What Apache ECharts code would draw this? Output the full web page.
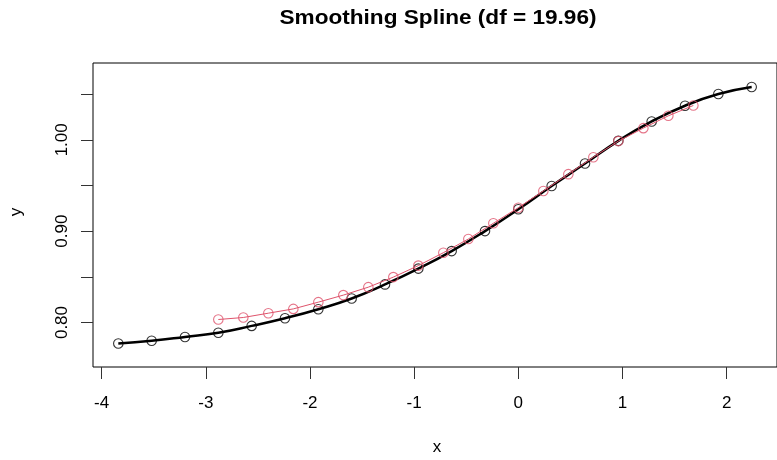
<!DOCTYPE html>
<html>
<head>
<meta charset="utf-8">
<script src="https://cdn.jsdelivr.net/npm/echarts@6/dist/echarts.min.js"></script>
<style>
html,body{margin:0;padding:0;background:#fff;}
#c{width:777px;height:460px;}
</style>
</head>
<body>
<div id="c"></div>
<script>
const titleText = "Smoothing Spline (df = 19.96)";
const xName = "x";
const yName = "y";

const fitX = [-3.84, -3.52, -3.20, -2.88, -2.56, -2.24, -1.92, -1.60, -1.28, -0.96,
              -0.64, -0.32, 0.00, 0.32, 0.64, 0.96, 1.28, 1.60, 1.92, 2.24];
const fitY = [0.7770, 0.7800, 0.7842, 0.7888, 0.7963, 0.8047, 0.8146, 0.8263, 0.8417, 0.8590,
              0.8782, 0.9001, 0.9240, 0.9495, 0.9740, 0.9989, 1.0201, 1.0373, 1.0501, 1.0578];

const obsX = [-2.88, -2.64, -2.40, -2.16, -1.92, -1.68, -1.44, -1.20, -0.96, -0.72,
              -0.48, -0.24, 0.00, 0.24, 0.48, 0.72, 0.96, 1.20, 1.44, 1.68];
const obsY = [0.8033, 0.8055, 0.8102, 0.8149, 0.8223, 0.8300, 0.8387, 0.8497, 0.8623, 0.8764,
              0.8914, 0.9086, 0.9257, 0.9440, 0.9624, 0.9810, 0.9986, 1.0128, 1.0263, 1.0376];

const xTicks = [-4, -3, -2, -1, 0, 1, 2];
const yTicks = [0.80, 0.85, 0.90, 0.95, 1.00, 1.05];
const yTickLabels = [0.80, 0.90, 1.00];

const fitData = fitX.map((x, i) => [x, fitY[i]]);
const obsData = obsX.map((x, i) => [x, obsY[i]]);

const FONT = "Liberation Sans, Arial, sans-serif";
const chart = echarts.init(document.getElementById('c'), null, {renderer: 'canvas'});
chart.setOption({
  animation: false,
  backgroundColor: '#fff',
  grid: {left: 93, top: 63, right: -5, bottom: 93, show: true, borderColor: '#000', borderWidth: 1, backgroundColor: 'transparent'},
  xAxis: {
    type: 'value', min: -4.083, max: 2.483,
    splitLine: {show: false},
    axisLine: {show: false, onZero: false},
    axisTick: {show: true, inside: false, length: 12, customValues: xTicks, lineStyle: {color: '#333', width: 1}},
    axisLabel: {show: true, customValues: xTicks, margin: 28, fontSize: 17, fontFamily: FONT, color: '#000',
                formatter: v => String(v)}
  },
  yAxis: {
    type: 'value', min: 0.7513, max: 1.0841,
    splitLine: {show: false},
    axisLine: {show: false, onZero: false},
    axisTick: {show: true, inside: false, length: 12, customValues: yTicks, lineStyle: {color: '#333', width: 1}},
    axisLabel: {show: true, customValues: yTickLabels, rotate: 90, margin: 22, fontSize: 17, fontFamily: FONT, color: '#000',
                formatter: v => Number(v).toFixed(2)}
  },
  graphic: [
    {type: 'text', x: 438, y: 18, scaleX: 1.13, style: {text: titleText, x: 0, y: 0, align: 'center', verticalAlign: 'middle',
      font: 'bold 20px Liberation Sans, Arial, sans-serif', fill: '#000'}},
    {type: 'text', style: {text: xName, x: 437, y: 447, align: 'center', verticalAlign: 'middle',
      font: '17px Liberation Sans, Arial, sans-serif', fill: '#000'}},
    {type: 'text', x: 16, y: 212, rotation: Math.PI / 2, style: {text: yName, x: 0, y: 0, align: 'center', verticalAlign: 'middle',
      font: '17px Liberation Sans, Arial, sans-serif', fill: '#000'}}
  ],
  series: [
    {type: 'line', data: fitData, smooth: true, showSymbol: false, lineStyle: {color: '#000', width: 2.5}, z: 2},
    {type: 'scatter', data: fitData, symbol: 'circle', symbolSize: 9.5,
     itemStyle: {color: 'rgba(0,0,0,0)', borderColor: '#000', borderWidth: 1.1}, z: 3},
    {type: 'line', data: obsData, showSymbol: false, lineStyle: {color: '#DF536B', width: 1}, z: 4},
    {type: 'scatter', data: obsData, symbol: 'circle', symbolSize: 9.5,
     itemStyle: {color: 'rgba(0,0,0,0)', borderColor: '#DF536B', borderWidth: 1.1}, z: 5}
  ]
});
</script>
</body>
</html>
